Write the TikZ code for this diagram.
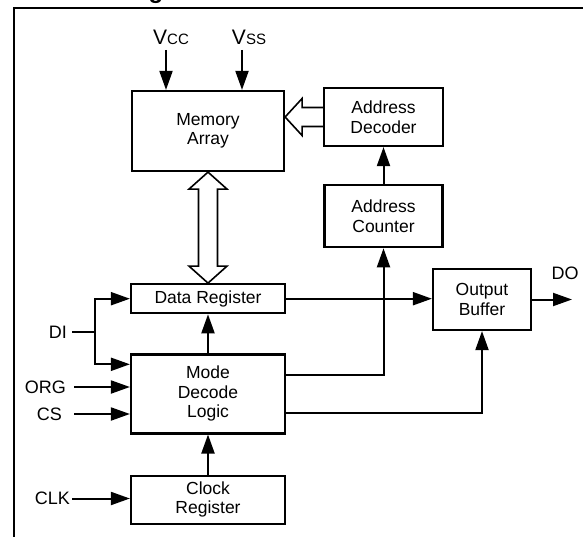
\documentclass[tikz,border=0pt]{standalone}
\usepackage{fontspec}
\setmainfont{Liberation Sans}
\usetikzlibrary{positioning,calc,arrows.meta}
\tikzset{
  blockpic/.style={
    x=1pt,y=-1pt
    ,line join=miter
  }
  ,block/.style={draw,line width=2.2pt,align=center,inner sep=0pt
    ,font=\fontsize{17.5}{19.5}\selectfont}
  ,pinlabel/.style={inner sep=0pt,font=\fontsize{18}{20}\selectfont}
  ,sig/.style={line width=2pt,-{Triangle[length=19pt,width=13pt]}}
  ,wire/.style={line width=2pt}
  ,bus/.style={draw,line width=1.6pt,fill=white,line join=miter}
  ,frame/.style={line width=2.8pt}
}
\begin{document}
\begin{tikzpicture}[blockpic]
    \useasboundingbox (0,0) rectangle (583,537);
    \clip (0,0) rectangle (583,537);
    % title and frame
    \node[font=\bfseries\fontsize{24}{28}\selectfont,anchor=base west,inner sep=0pt]
      (title) at (39,-1) {Block Diagram};
    \draw[frame] (14,545) -- (14,8) -- (590,8);
    % init blocks
    \node[block,minimum width=152pt,minimum height=80pt] (mem) at (208,131) {Memory\\Array};
    \node[block,minimum width=154pt,minimum height=29pt,below=111pt of mem] (dreg) {Data Register};
    \node[block,minimum width=154pt,minimum height=79pt,below=39pt of dreg] (mode) {Mode\\Decode\\Logic};
    \node[block,minimum width=154pt,minimum height=48pt,below=40pt of mode] (clk) {Clock\\Register};
    \node[block,minimum width=119pt,minimum height=58pt] (adec) at (383.5,117) {Address\\Decoder};
    \node[block,minimum width=118pt,minimum height=62pt,below=37pt of adec] (acnt) {Address\\Counter};
    \node[block,minimum width=98pt,minimum height=61pt] (obuf) at (482,299.5) {Output\\Buffer};
    % pins
    \node[anchor=base] (vcclbl) at (171,45)
      {\fontsize{21}{24}\selectfont V\fontsize{15}{18}\selectfont CC};
    \node[anchor=base] (vsslbl) at (249,45)
      {\fontsize{21}{24}\selectfont V\fontsize{15}{18}\selectfont SS};
    \node[pinlabel,anchor=east] (dilbl) at (67,332) {DI};
    \node[pinlabel,anchor=east] (orglbl) at (66,387) {ORG};
    \node[pinlabel,anchor=east] (cslbl) at (62,414) {CS};
    \node[pinlabel,anchor=east] (clklbl) at (70,498.5) {CLK};
    \node[pinlabel] (dolbl) at (565,273) {DO};
    \coordinate (vccin) at (166,50);
    \coordinate (vssin) at (242,50);
    \coordinate (dij) at (95,332);
    \coordinate (doout) at (572,300);
    \coordinate (htip) at (mem.east |- adec.west);
    % buses
    \draw[bus] ($(adec.west)+(0,-9.5)$) -- ($(htip)+(17,-9.5)$) -- ($(htip)+(17,-18.5)$)
      -- (htip) -- ($(htip)+(17,18.5)$) -- ($(htip)+(17,9.5)$) -- ($(adec.west)+(0,9.5)$);
    \draw[bus] (mem.south) -- ++(19,17) -- ++(-9.5,0) -- ($(dreg.north)+(9.5,-17)$)
      -- ++(9.5,0) -- (dreg.north) -- ++(-19,-17) -- ++(9.5,0)
      -- ($(mem.south)+(-9.5,17)$) -- ++(-9.5,0) -- cycle;
    % signals
    \draw[sig] (vccin) -- (vccin |- mem.north);
    \draw[sig] (vssin) -- (vssin |- mem.north);
    \draw[sig] (acnt.north) -- (acnt.north |- adec.south);
    \draw[wire] ([xshift=5pt]dilbl.east) -- (dij);
    \draw[sig] (dij) |- (dreg.west);
    \draw[sig] (dij) |- ([yshift=-11pt]mode.north west);
    \draw[sig] ([xshift=8pt]orglbl.east) -- (orglbl -| mode.west);
    \draw[sig] ([xshift=12pt]cslbl.east) -- (cslbl -| mode.west);
    \draw[sig] ([xshift=2pt]clklbl.east) -- (clklbl -| clk.west);
    \draw[sig] (mode.north) -- (dreg.south);
    \draw[sig] (clk.north) -- (mode.south);
    \draw[sig] (dreg.east) -- (dreg.east -| obuf.west);
    \draw[sig] ([yshift=-22pt]mode.north east) -| (acnt.south);
    \draw[sig] ([yshift=22pt]mode.south east) -| (obuf.south);
    \draw[sig] (obuf.east) -- (obuf.east -| doout);
\end{tikzpicture}
\end{document}
